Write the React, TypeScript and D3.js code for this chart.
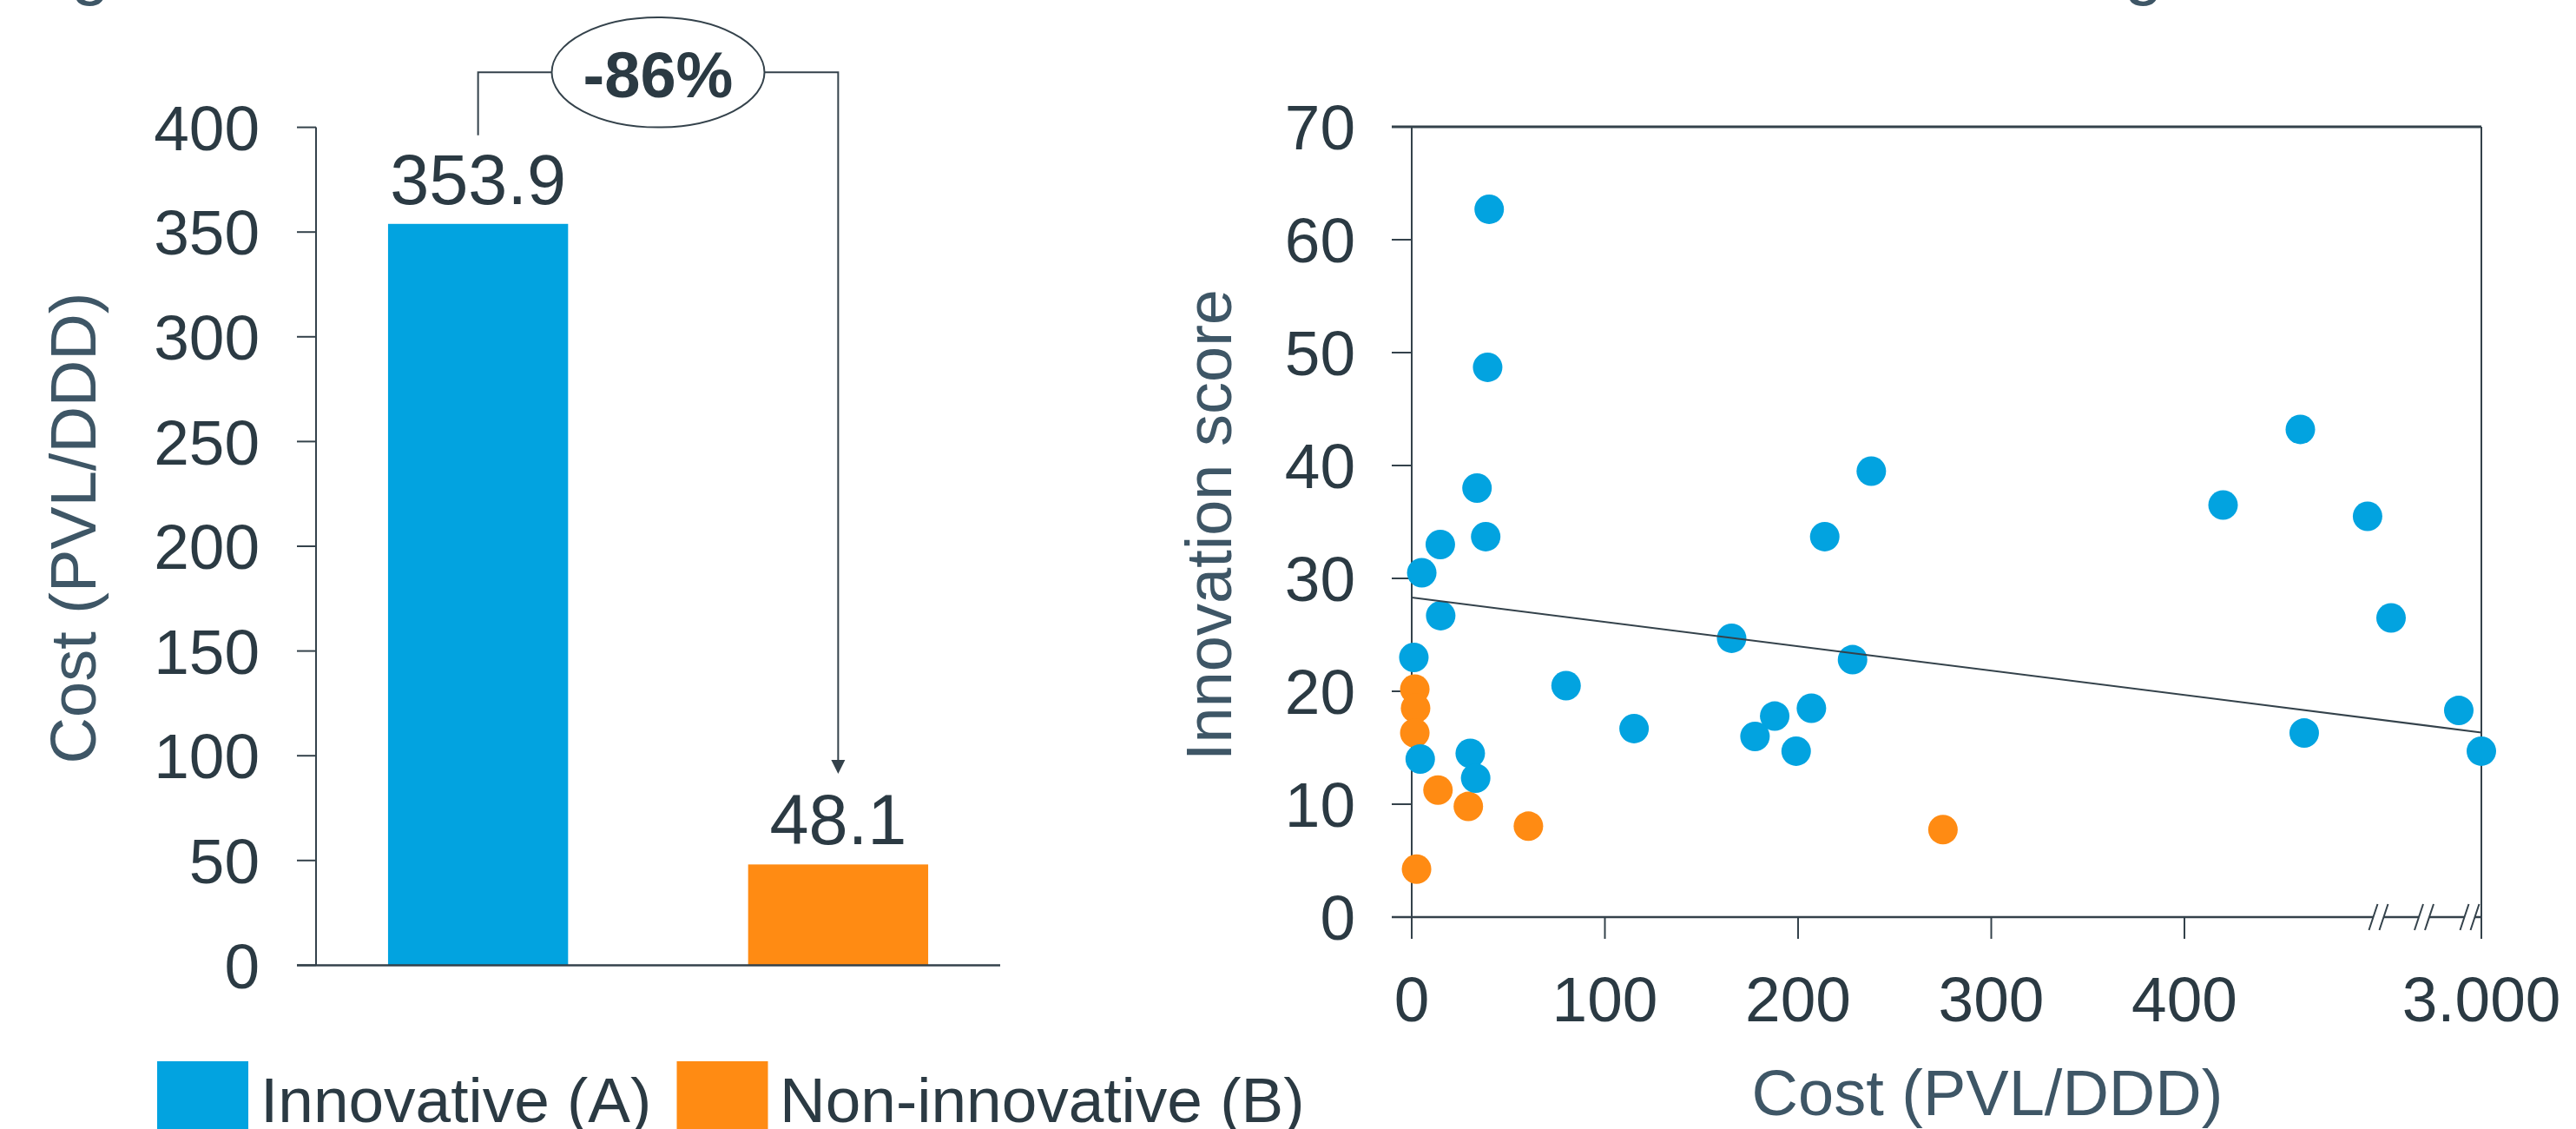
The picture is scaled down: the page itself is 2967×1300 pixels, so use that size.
import React from "react";
import * as d3 from "d3";

// ---------- data ----------
const barCategories = ["Innovative (A)", "Non-innovative (B)"];
const barValues = [353.9, 48.1];
const barTicks = [0, 50, 100, 150, 200, 250, 300, 350, 400];
const changeLabel = "-86%";

const innovCost = [15.0, 165.6, 1.1, 228.2, 824, 79.9, 206.9, 187.9, 2456, 115.1, 177.7, 462, 199.0, 3000, 4.4, 30.3, 33.1, 40.1, 39.3, 33.8, 38.3, 14.8, 5.2, 237.9, 213.8, 460, 420, 494.8];
const innovScore = [26.7, 24.7, 23.0, 22.8, 26.5, 20.5, 18.5, 17.8, 18.3, 16.7, 16.0, 16.3, 14.7, 14.7, 14.0, 14.5, 12.3, 62.7, 48.7, 38.0, 33.7, 33.0, 30.5, 39.5, 33.7, 43.2, 36.5, 35.5];
const nonInnovCost = [1.6, 2.0, 1.6, 13.6, 29.3, 60.4, 275.0, 2.5];
const nonInnovScore = [20.2, 18.5, 16.3, 11.25, 9.8, 8.05, 7.75, 4.25];

const scatterYTicks = [0, 10, 20, 30, 40, 50, 60, 70];
const scatterXTicks = [0, 100, 200, 300, 400, 3000];
const scatterXTickLabels = ["0", "100", "200", "300", "400", "3.000"];
const scatterBreakValue = 500;
const trendCost = [0, 3000];
const trendScore = [28.3, 16.35];

const barYTitle = "Cost (PVL/DDD)";
const scatterYTitle = "Innovation score";
const scatterXTitle = "Cost (PVL/DDD)";

// ---------- style ----------
const FONT = "'Liberation Sans', Arial, Helvetica, sans-serif";
const BLUE = "#02A3E0";
const ORANGE = "#FF8B13";
const DARK = "#2B3A43";
const SLATE = "#3E5666";
const AXIS = "#34424B";

export default function App() {
  // ----- bar chart -----
  const bL = 364, bR = 1152, bT = 146.6, bB = 1111.4;
  const yBar = d3.scaleLinear().domain([0, 400]).range([bB, bT]);
  const xBar = d3.scaleBand<string>().domain(barCategories).range([bL, bR]).paddingInner(0.5).paddingOuter(0.2);
  const cA = xBar(barCategories[0])! + xBar.bandwidth() / 2;
  const cB = xBar(barCategories[1])! + xBar.bandwidth() / 2;
  const bracketY = 83.3;
  const ellCx = (cA + cB) / 2;
  const ellRx = 122.5, ellRy = 63.3;
  const leftStart = yBar(barValues[0]) - 102;
  const arrowTip = yBar(barValues[1]) - 104.5;

  // ----- scatter -----
  const sL = 1626, sR = 2858, sT = 146, sB = 1056;
  const pxPerUnit = 2.225;
  const xS = d3.scaleLinear().domain([0, scatterBreakValue, 3000]).range([sL, sL + scatterBreakValue * pxPerUnit, sR]);
  const yS = d3.scaleLinear().domain([0, 70]).range([sB, sT]);
  const trendLine = d3.line<number>().x((_, i) => xS(trendCost[i])).y((d) => yS(d));
  const breakOffsets = [-118.5, -66, -13.5];
  const R = 17;

  return (
    <svg width={2967} height={1300} style={{ position: "absolute", left: 0, top: 0, background: "#fff" }} fontFamily={FONT}>
      {/* clipped title fragments */}
      <text x={104} y={-10} textAnchor="middle" fontSize={80} fill={SLATE}>g</text>
      <text x={2469} y={-10} textAnchor="middle" fontSize={80} fill={SLATE}>g</text>

      {/* ===== Bar chart ===== */}
      <g>
        {barTicks.map((t) => (
          <g key={t}>
            <line x1={bL - 22} x2={bL} y1={yBar(t)} y2={yBar(t)} stroke={AXIS} strokeWidth={2} />
            <text x={299} y={yBar(t)} dy="0.36em" textAnchor="end" fontSize={73} fill={DARK}>{t}</text>
          </g>
        ))}
        {barCategories.map((c, i) => (
          <rect key={c} x={xBar(c)} y={yBar(barValues[i])} width={xBar.bandwidth()} height={yBar(0) - yBar(barValues[i])} fill={i === 0 ? BLUE : ORANGE} />
        ))}
        <line x1={bL} x2={bL} y1={bT} y2={bB} stroke={AXIS} strokeWidth={2} />
        <line x1={bL - 22} x2={bR} y1={bB} y2={bB} stroke={AXIS} strokeWidth={2.5} />
        {barCategories.map((c, i) => (
          <text key={c} x={xBar(c)! + xBar.bandwidth() / 2} y={yBar(barValues[i]) - 23} textAnchor="middle" fontSize={81} fill={DARK}>
            {barValues[i].toFixed(1)}
          </text>
        ))}
        {/* bracket */}
        <path d={`M${cA},${leftStart} V${bracketY} H${ellCx - ellRx}`} fill="none" stroke={AXIS} strokeWidth={2} />
        <path d={`M${ellCx + ellRx},${bracketY} H${cB} V${arrowTip - 14}`} fill="none" stroke={AXIS} strokeWidth={2} />
        <polygon points={`${cB - 8},${arrowTip - 16} ${cB + 8},${arrowTip - 16} ${cB},${arrowTip}`} fill={AXIS} />
        <ellipse cx={ellCx} cy={bracketY} rx={ellRx} ry={ellRy} fill="#fff" stroke={AXIS} strokeWidth={2} />
        <text x={ellCx} y={bracketY + 29} textAnchor="middle" fontSize={74} fontWeight="bold" fill={DARK}>{changeLabel}</text>
        <text transform={`translate(110,${(bT + bB) / 2 - 21}) rotate(-90)`} textAnchor="middle" fontSize={74} fill={SLATE}>{barYTitle}</text>
      </g>

      {/* legend */}
      <g>
        <rect x={181} y={1222} width={105} height={105} fill={BLUE} />
        <text x={300} y={1291.7} fontSize={73} fill={DARK}>{barCategories[0]}</text>
        <rect x={779.5} y={1222} width={105} height={105} fill={ORANGE} />
        <text x={898} y={1291.7} fontSize={73} fill={DARK}>{barCategories[1]}</text>
      </g>

      {/* ===== Scatter ===== */}
      <g>
        {scatterYTicks.map((t) => (
          <g key={t}>
            <line x1={sL - 23} x2={sL} y1={yS(t)} y2={yS(t)} stroke={AXIS} strokeWidth={2} />
            <text x={1561} y={yS(t)} dy="0.36em" textAnchor="end" fontSize={73} fill={DARK}>{t}</text>
          </g>
        ))}
        {scatterXTicks.map((t, i) => (
          <g key={t}>
            <line x1={xS(t)} x2={xS(t)} y1={sB} y2={sB + 25} stroke={AXIS} strokeWidth={2} />
            <text x={xS(t)} y={1176.4} textAnchor="middle" fontSize={73} fill={DARK}>{scatterXTickLabels[i]}</text>
          </g>
        ))}
        <line x1={sL} x2={sL} y1={sT} y2={sB} stroke={AXIS} strokeWidth={2} />
        <line x1={sR} x2={sR} y1={sT} y2={sB} stroke={AXIS} strokeWidth={2} />
        <line x1={sL - 23} x2={sR} y1={sT} y2={sT} stroke={AXIS} strokeWidth={3} />
        <line x1={sL - 23} x2={sR} y1={sB} y2={sB} stroke={AXIS} strokeWidth={2.5} />
        {breakOffsets.map((o) => {
          const cx = sR + o;
          return (
            <g key={o}>
              <polygon points={`${cx - 6 - 5},${sB + 15} ${cx + 6 - 5},${sB + 15} ${cx + 6 + 5},${sB - 15} ${cx - 6 + 5},${sB - 15}`} fill="#fff" />
              <line x1={cx - 6 - 5} y1={sB + 15} x2={cx - 6 + 5} y2={sB - 15} stroke={AXIS} strokeWidth={2} />
              <line x1={cx + 6 - 5} y1={sB + 15} x2={cx + 6 + 5} y2={sB - 15} stroke={AXIS} strokeWidth={2} />
            </g>
          );
        })}
        <line x1={sR} x2={sR} y1={sB - 16} y2={sB + 25} stroke={AXIS} strokeWidth={2} />
        {nonInnovCost.map((c, i) => (
          <circle key={"o" + i} cx={xS(c)} cy={yS(nonInnovScore[i])} r={R} fill={ORANGE} />
        ))}
        {innovCost.map((c, i) => (
          <circle key={"b" + i} cx={xS(c)} cy={yS(innovScore[i])} r={R} fill={BLUE} />
        ))}
        <path d={trendLine(trendScore)!} fill="none" stroke={AXIS} strokeWidth={2} />
        <text x={2289} y={1283.5} textAnchor="middle" fontSize={74} fill={SLATE}>{scatterXTitle}</text>
        <text transform={`translate(1418,${604.5}) rotate(-90)`} textAnchor="middle" fontSize={74} fill={SLATE}>{scatterYTitle}</text>
      </g>
    </svg>
  );
}
